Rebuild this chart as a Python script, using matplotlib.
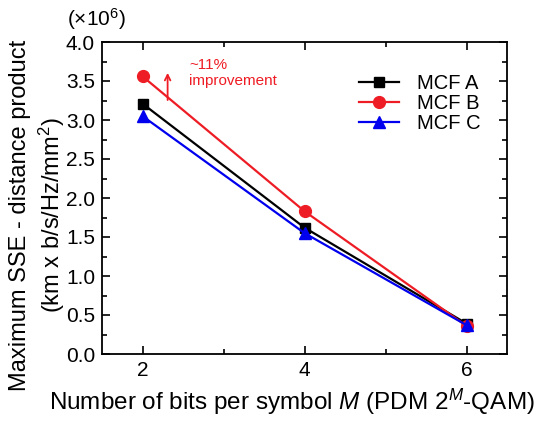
import matplotlib
matplotlib.use('Agg')
import matplotlib.pyplot as plt
from matplotlib.ticker import MultipleLocator, FormatStrFormatter

plt.rcParams['font.family'] = ['Liberation Sans', 'DejaVu Sans']
plt.rcParams['mathtext.fontset'] = 'custom'
plt.rcParams['mathtext.rm'] = 'Liberation Sans'
plt.rcParams['mathtext.it'] = 'Liberation Sans:italic'

# bits per symbol
bits = [2, 4, 6]
# max SSE-distance product (x10^6)
mcf_a = [3.21, 1.62, 0.39]
mcf_b = [3.56, 1.83, 0.36]
mcf_c = [3.05, 1.55, 0.37]

fig = plt.figure(figsize=(5.45, 4.21), dpi=100)
ax = fig.add_axes([102 / 545, 1 - 354 / 421, 405 / 545, 312 / 421])

ax.plot(bits, mcf_a, color='black', marker='s', markersize=7, lw=1.6, label='MCF A')
ax.plot(bits, mcf_b, color='#ee1c24', marker='o', markersize=8.5, lw=1.6, label='MCF B')
ax.plot(bits, mcf_c, color='#0000ee', marker='^', markersize=8.5, lw=1.6, label='MCF C')

ax.set_xlim(1.5, 6.5)
ax.set_ylim(0, 4.0)
ax.xaxis.set_major_locator(MultipleLocator(2))
ax.xaxis.set_minor_locator(MultipleLocator(1))
ax.yaxis.set_major_locator(MultipleLocator(0.5))
ax.yaxis.set_minor_locator(MultipleLocator(0.25))
ax.yaxis.set_major_formatter(FormatStrFormatter('%.1f'))
ax.tick_params(which='both', direction='in', top=True, right=True, width=1.2)
ax.tick_params(which='major', length=6, labelsize=15, pad=5)
ax.tick_params(which='minor', length=3.5)
for s in ax.spines.values():
    s.set_linewidth(1.3)

# axis titles placed by hand
fig.text(292 / 545, 1 - 402 / 421,
         'Number of bits per symbol $\\mathit{M}$ (PDM 2$^{\\mathit{M}}$-QAM)',
         fontsize=17.5, ha='center', va='center')
fig.text(38 / 545, 1 - 215 / 421,
         'Maximum SSE - distance product\n(km x b/s/Hz/mm$^2$)',
         fontsize=17, ha='center', va='center', rotation=90,
         multialignment='center', linespacing=1.25)
fig.text(67 / 545, 1 - 19 / 421, '(×10$^6$)', fontsize=15, va='center')

ax.annotate('', xy=(2.31, 3.64), xytext=(2.31, 3.22),
            arrowprops=dict(arrowstyle='->', color='#ee1c24', lw=1.3))
ax.text(2.58, 3.6, '~11%\nimprovement', color='#ee1c24', fontsize=11, va='center')

ax.legend(loc='upper right', bbox_to_anchor=(0.98, 0.955), frameon=False, fontsize=14.5,
          handlelength=2.0, labelspacing=0.05, handletextpad=0.9)

fig.savefig('out.png', dpi=100)
